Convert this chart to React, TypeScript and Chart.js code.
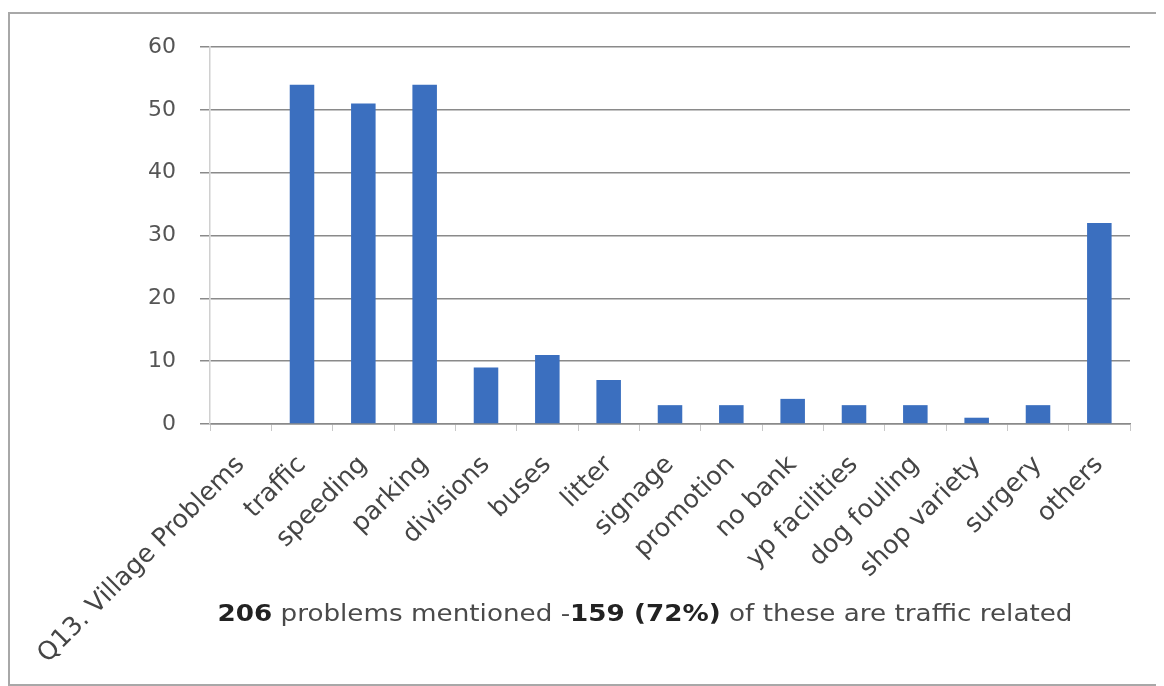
import React, { useEffect, useRef } from "react";
import { Chart, registerables } from "chart.js";

Chart.register(...registerables);

const categories = [
  "Q13. Village Problems",
  "traffic",
  "speeding",
  "parking",
  "divisions",
  "buses",
  "litter",
  "signage",
  "promotion",
  "no bank",
  "yp facilities",
  "dog fouling",
  "shop variety",
  "surgery",
  "others",
];
const counts: (number | null)[] = [null, 54, 51, 54, 9, 11, 7, 3, 3, 4, 3, 3, 1, 3, 32];
const yTicks = [0, 10, 20, 30, 40, 50, 60];
const notePartsText = [
  { text: "206", bold: true },
  { text: " problems mentioned -", bold: false },
  { text: "159 (72%)", bold: true },
  { text: " of these are traffic related", bold: false },
];

const FONT = "'DejaVu Sans', Verdana, sans-serif";

const notePlugin = {
  id: "note",
  afterDraw(chart: any) {
    const ctx = chart.ctx;
    ctx.save();
    const size = 23;
    const sx = 1.14;
    let total = 0;
    const widths = notePartsText.map((p) => {
      ctx.font = `${p.bold ? "bold " : ""}${size}px ${FONT}`;
      const w = ctx.measureText(p.text).width;
      total += w;
      return w;
    });
    const cx = 635;
    const y = 601;
    ctx.translate(cx, y);
    ctx.scale(sx, 1);
    let x = -total / 2;
    ctx.textBaseline = "middle";
    ctx.textAlign = "left";
    notePartsText.forEach((p, i) => {
      ctx.font = `${p.bold ? "bold " : ""}${size}px ${FONT}`;
      ctx.fillStyle = p.bold ? "#222" : "#4a4a4a";
      ctx.fillText(p.text, x, 0);
      x += widths[i];
    });
    ctx.restore();
  },
};

export default function App() {
  const ref = useRef<HTMLCanvasElement | null>(null);
  useEffect(() => {
    if (!ref.current) return;
    const chart = new Chart(ref.current, {
      type: "bar",
      data: {
        labels: categories,
        datasets: [
          {
            data: counts,
            backgroundColor: "#3b6fbf",
            borderWidth: 0,
            barPercentage: 0.4,
            categoryPercentage: 1,
          },
        ],
      },
      options: {
        animation: false,
        responsive: false,
        maintainAspectRatio: false,
        layout: { padding: { top: 33, right: 28, left: 0, bottom: 0 } },
        plugins: { legend: { display: false }, tooltip: { enabled: false } },
        scales: {
          x: {
            offset: true,
            grid: {
              display: true,
              drawOnChartArea: false,
              drawTicks: true,
              tickLength: 7,
              color: "#c8c8c8",
              offset: true,
            },
            border: { display: true, color: "#8a8a8a", width: 1.5 },
            ticks: {
              autoSkip: false,
              maxRotation: 45,
              minRotation: 45,
              color: "#454545",
              font: { family: FONT, size: 25.5 },
              padding: 19,
            },
            afterFit(scale: any) {
              scale.height = 260;
            },
          },
          y: {
            min: 0,
            max: 60,
            afterBuildTicks(scale: any) {
              scale.ticks = yTicks.map((v) => ({ value: v }));
            },
            grid: {
              color: "#8a8a8a",
              lineWidth: 1.5,
              drawTicks: true,
              tickLength: 10,
            },
            border: { display: true, color: "#d0d0d0", width: 1.5 },
            ticks: {
              color: "#555",
              font: { family: FONT, size: 22 },
              padding: 24,
            },
            afterFit(scale: any) {
              scale.width = 200;
              scale.paddingTop = 0;
            },
          },
        },
      },
      plugins: [notePlugin],
    });
    return () => chart.destroy();
  }, []);
  return (
    <div
      style={{
        width: 1152,
        height: 674,
        marginTop: 4,
        border: "2px solid #a8a8a8",
        boxSizing: "border-box",
        background: "#fff",
      }}
    >
      <canvas ref={ref} width={1148} height={670} style={{ display: "block" }} />
    </div>
  );
}
